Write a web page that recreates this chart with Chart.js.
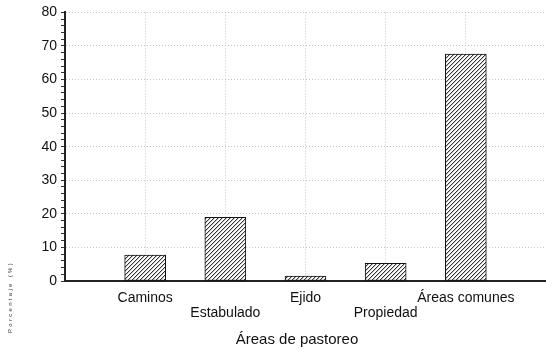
<!DOCTYPE html>
<html><head><meta charset="utf-8">
<script src="https://cdn.jsdelivr.net/npm/chart.js@4.4.0/dist/chart.umd.min.js"></script>
<style>html,body{margin:0;padding:0;background:#fff;}#wrap{width:546px;height:358px;position:relative;}</style>
</head><body><div id="wrap"><canvas id="c" width="546" height="358"></canvas></div>
<script>
const categories = ['Caminos', 'Estabulado', 'Ejido', 'Propiedad', 'Áreas comunes'];
const values = [7.7, 19.0, 1.5, 5.3, 67.6];
const yTickLabels = [0, 10, 20, 30, 40, 50, 60, 70, 80];
const xTitle = 'Áreas de pastoreo';
const yTitle = 'Porcentaje (%)';

const FONT = "'Liberation Sans',Arial,sans-serif";
const labels = [''].concat(categories).concat(['']);
const data = [null].concat(values).concat([null]);

function hatch() {
  const n = 4;
  const c = document.createElement('canvas');
  c.width = n; c.height = n;
  const g = c.getContext('2d');
  g.fillStyle = '#fff'; g.fillRect(0, 0, n, n);
  for (let i = 0; i < n; i++) {
    g.fillStyle = '#333'; g.fillRect(i, n - 1 - i, 1, 1);
    g.fillStyle = '#c4c4c4'; g.fillRect((i + 1) % n, n - 1 - i, 1, 1);
  }
  return g.createPattern(c, 'repeat');
}

const titles = {
  id: 'titles',
  afterDraw(chart) {
    const ctx = chart.ctx;
    ctx.save();
    ctx.fillStyle = '#111';
    ctx.font = "15px " + FONT;
    ctx.textAlign = 'center';
    ctx.textBaseline = 'middle';
    ctx.fillText(xTitle, 297, 340);
    ctx.translate(10, 297);
    ctx.rotate(-Math.PI / 2);
    ctx.font = "6px " + FONT;
    ctx.fillStyle = '#333';
    try { ctx.letterSpacing = '2.3px'; } catch (e) {}
    ctx.fillText(yTitle, 0, 0);
    ctx.restore();
  }
};

new Chart(document.getElementById('c').getContext('2d'), {
  type: 'bar',
  data: {
    labels: labels,
    datasets: [{
      data: data,
      backgroundColor: hatch(),
      borderColor: '#111',
      borderWidth: 1,
      borderSkipped: false,
      barThickness: 41
    }]
  },
  options: {
    responsive: false,
    animation: false,
    devicePixelRatio: 1,
    layout: { padding: { top: 12, right: 0, left: 0, bottom: 0 } },
    plugins: { legend: { display: false }, tooltip: { enabled: false } },
    scales: {
      x: {
        offset: false,
        afterFit: s => { s.height = 77; s.paddingLeft = 0; s.paddingRight = 0; },
        grid: {
          offset: false,
          color: c => (c.index > 0 && c.index < labels.length - 1) ? '#c4c4c4' : 'transparent',
          tickColor: 'transparent',
          tickLength: 4,
          lineWidth: 1
        },
        border: { color: '#222', width: 2, dash: [1, 2] },
        ticks: {
          autoSkip: false,
          maxRotation: 0,
          padding: 5,
          color: '#111',
          font: { family: FONT, size: 14, lineHeight: 1.1 },
          callback: (v, i) => labels[i] ? (i % 2 === 1 ? [labels[i]] : ['', labels[i]]) : ''
        }
      },
      y: {
        min: 0, max: 80,
        afterFit: s => { s.width = 65; },
        grid: {
          color: c => (c.tick && yTickLabels.includes(c.tick.value) && c.tick.value > 0) ? '#c4c4c4' : 'transparent',
          tickColor: '#333',
          tickLength: 4,
          tickBorderDash: []
        },
        border: { color: '#222', width: 2, dash: [1, 2] },
        ticks: {
          stepSize: 2,
          autoSkip: false,
          padding: 4,
          color: '#111',
          font: { family: FONT, size: 14 },
          callback: v => yTickLabels.includes(v) ? String(v) : ''
        }
      }
    }
  },
  plugins: [titles]
});
</script></body></html>
